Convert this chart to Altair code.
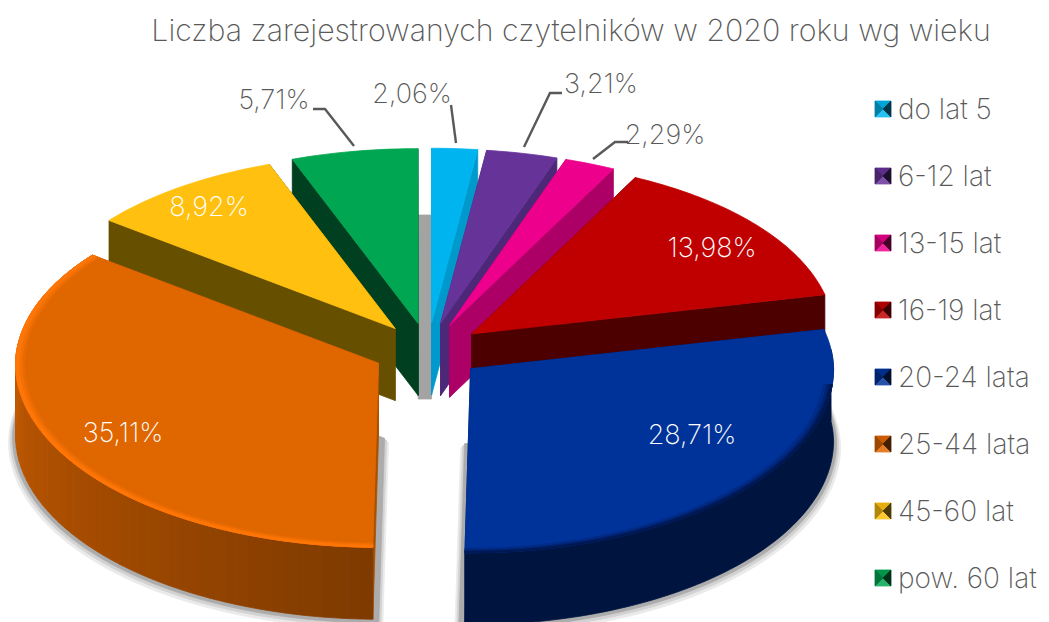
import math
import altair as alt
import pandas as pd

title_text = "Liczba zarejestrowanych czytelników w 2020 roku wg wieku"
categories = ["do lat 5", "6-12 lat", "13-15 lat", "16-19 lat", "20-24 lata", "25-44 lata", "45-60 lat", "pow. 60 lat"]
shares = [2.06, 3.21, 2.29, 13.98, 28.71, 35.11, 8.92, 5.71]
labels = ["2,06%", "3,21%", "2,29%", "13,98%", "28,71%", "35,11%", "8,92%", "5,71%"]
top_colors = ["#00B5EF", "#663399", "#EC008C", "#C00000", "#003399", "#E06600", "#FFC00F", "#00A651"]
wall_colors = ["#0099CC", "#4D2878", "#AD0066", "#4D0000", "#001A55", "#A85000", "#665000", "#004020"]
rim_from = ["#0099CC", "#4D2878", "#AD0066", "#4D0000", "#001440", "#C45A00", "#665000", "#004020"]
rim_to = ["#0099CC", "#4D2878", "#AD0066", "#4D0000", "#001440", "#7E3A00", "#665000", "#004020"]
draw_order = [7, 0, 1, 6, 2, 3, 5, 4]

label_x = [412, 601, 665, 712, 692, 123, 209, 274]
label_y = [95, 85, 136, 249, 436, 434, 208, 101]
label_colors = ["#595959", "#595959", "#595959", "#FFFFFF", "#FFFFFF", "#FFFFFF", "#FFFFFF", "#595959"]

leader_id = [0, 0, 0, 1, 1, 2, 2, 2, 3, 3, 3]
leader_x = [313, 325, 354, 451, 456, 562, 550, 524, 628, 615, 593]
leader_y = [109, 109, 146, 105, 143, 93, 93, 147, 142, 142, 159]

CX, CY, RX, RY, EX, EY, DEPTH = 428, 351, 363, 184, 55, 28, 72


def pt(ax, ay, deg, r=1.0, drop=0.0):
    a = math.radians(deg)
    u, v = math.sin(a), -math.cos(a)
    sx = 1 + 0.015 * min(v, 0)
    sy = 1 + 0.05 * min(v, 0)
    return (ax + RX * r * u * sx, ay + RY * r * v * sy + drop)


def mix(c1, c2, t):
    p = [int(c1[i:i + 2], 16) for i in (1, 3, 5)]
    q = [int(c2[i:i + 2], 16) for i in (1, 3, 5)]
    return "#%02X%02X%02X" % tuple(round(a + (b - a) * t) for a, b in zip(p, q))


rows = []
poly = 0


def add(points, color):
    global poly
    poly += 1
    for i, (x, y) in enumerate(list(points) + [points[0]]):
        rows.append({"poly": poly, "i": i, "x": x, "y": y, "c": color})


def arc(ax, ay, a0, a1, r=1.0, drop=0.0, n=None):
    n = n or max(3, int(abs(a1 - a0)))
    return [pt(ax, ay, a0 + (a1 - a0) * k / n, r, drop) for k in range(n + 1)]


starts = []
acc = 0.0
for s in shares:
    starts.append(acc)
    acc += s * 3.6

slices = {}
for k, s in enumerate(shares):
    a0 = starts[k]
    a1 = a0 + s * 3.6
    mid = math.radians((a0 + a1) / 2)
    slices[k] = (a0, a1, CX + EX * math.sin(mid), CY - EY * math.cos(mid))

# grey shadow seen through the central gap
gl, gr = slices[7][2], slices[0][2]
add([(gl, CY - 136), (gr, CY - 136), (gr, CY + 48), (gl, CY + 48)], "#A3A3A3")

# soft shadow under the two front slices
for k in (5, 4):
    a0, a1, ax, ay = slices[k]
    side = -1 if k == 5 else 1
    for grow, col in ((7, "#EAEAEA"), (5, "#D2D2D2"), (3, "#ACACAC")):
        pts = [(x, y + DEPTH + grow - 1) for x, y in arc(ax, ay, a0, a1, 1 + grow / 363)]
        end = pts[0] if k == 5 else pts[-1]
        edge = [(end[0] - side * (grow + 3), end[1]), (ax - side * (grow + 3), ay + DEPTH + grow)]
        pts = pts + edge if k == 4 else pts + edge[::-1]
        add(pts, col)

for k in draw_order:
    a0, a1, ax, ay = slices[k]
    for edge in (a0, a1):
        p = pt(ax, ay, edge)
        add([(ax, ay), p, (p[0], p[1] + DEPTH), (ax, ay + DEPTH)], wall_colors[k])
    front0, front1 = max(a0, 84), min(a1, 276)
    if front0 < front1:
        n = 1 if rim_from[k] == rim_to[k] else max(3, int((front1 - front0) / 2))
        for j in range(n):
            b0 = front0 + (front1 - front0) * j / n
            b1 = front0 + (front1 - front0) * (j + 1) / n
            seg = arc(ax, ay, b0, b1, n=max(3, int(b1 - b0)))
            low = arc(ax, ay, b1, b0, drop=DEPTH, n=max(3, int(b1 - b0)))
            t = (j + 0.5) / n if k != 5 else 1 - (j + 0.5) / n
            add(seg + low, mix(rim_from[k], rim_to[k], t))
    add([(ax, ay)] + arc(ax, ay, a0, a1), top_colors[k])
    if k == 5:
        for r_in, col in ((0.975, "#E86A02"), (0.982, "#F37004"), (0.99, "#FF7608")):
            add(arc(ax, ay, a0, a1) + arc(ax, ay, a1, a0, r_in), col)
    if k == 4:
        front = max(a0, 95)
        for r_in, col in ((0.975, "#002C88"), (0.985, "#002270"), (0.993, "#001850")):
            add(arc(ax, ay, front, a1) + arc(ax, ay, a1, front, r_in), col)

# bevelled legend swatches
for k, c in enumerate(top_colors):
    lx, ly, h = 883, 109 + 67 * k, 8
    nw, ne, se, sw, m = (lx - h, ly - h), (lx + h, ly - h), (lx + h, ly + h), (lx - h, ly + h), (lx, ly)
    add([nw, ne, m], mix(c, "#000000", 0.1))
    add([sw, se, m], mix(c, "#FFFFFF", 0.15))
    add([nw, sw, m], mix(c, "#000000", 0.3))
    add([ne, se, m], mix(c, "#000000", 0.7))

shapes = pd.DataFrame(rows)

X = alt.X("x:Q", scale=alt.Scale(domain=[8, 1041], range=[0, 1033], nice=False, zero=False), axis=None)
Y = alt.Y("y:Q", scale=alt.Scale(domain=[622, 8], range=[614, 0], nice=False, zero=False), axis=None)

pie = alt.Chart(shapes).mark_line(strokeWidth=0.8, clip=True).encode(
    x=X, y=Y, order="i:Q", detail="poly:N",
    fill=alt.Fill("c:N", scale=None),
    stroke=alt.Stroke("c:N", scale=None),
)

leaders = alt.Chart(pd.DataFrame({"id": leader_id, "i": range(len(leader_x)), "x": leader_x, "y": leader_y})).mark_line(
    color="#595959", strokeWidth=2.4
).encode(x=X, y=Y, order="i:Q", detail="id:N")

FONT = "Inter"
pct = alt.Chart(pd.DataFrame({"t": labels, "x": label_x, "y": label_y, "c": label_colors})).mark_text(
    font=FONT, fontSize=27, fontWeight=200
).encode(x=X, y=Y, text="t:N", color=alt.Color("c:N", scale=None))

title = alt.Chart(pd.DataFrame({"t": [title_text], "x": [571], "y": [32]})).mark_text(
    font=FONT, fontSize=30.3, fontWeight=200, color="#595959"
).encode(x=X, y=Y, text="t:N")

legend_layer = alt.Chart(pd.DataFrame({"cat": categories})).mark_square(clip=True).encode(
    x=alt.value(-200), y=alt.value(-200),
    color=alt.Color(
        "cat:N",
        scale=alt.Scale(domain=categories, range=top_colors),
        legend=alt.Legend(
            title=None, orient="none", legendX=855, legendY=89,
            symbolType="square", symbolSize=200, symbolOpacity=0, symbolStrokeWidth=0,
            labelFont=FONT, labelFontSize=28, labelFontWeight=200, labelColor="#595959",
            rowPadding=39, labelOffset=7, labelLimit=200,
        ),
    ),
)

chart = alt.layer(pie, leaders, pct, title, legend_layer).properties(
    width=1033, height=614, padding=0, background="white",
    autosize=alt.AutoSizeParams(type="none"),
).configure_view(strokeWidth=0)

chart.save("out.html", embed_options={"renderer": "svg", "actions": False})
